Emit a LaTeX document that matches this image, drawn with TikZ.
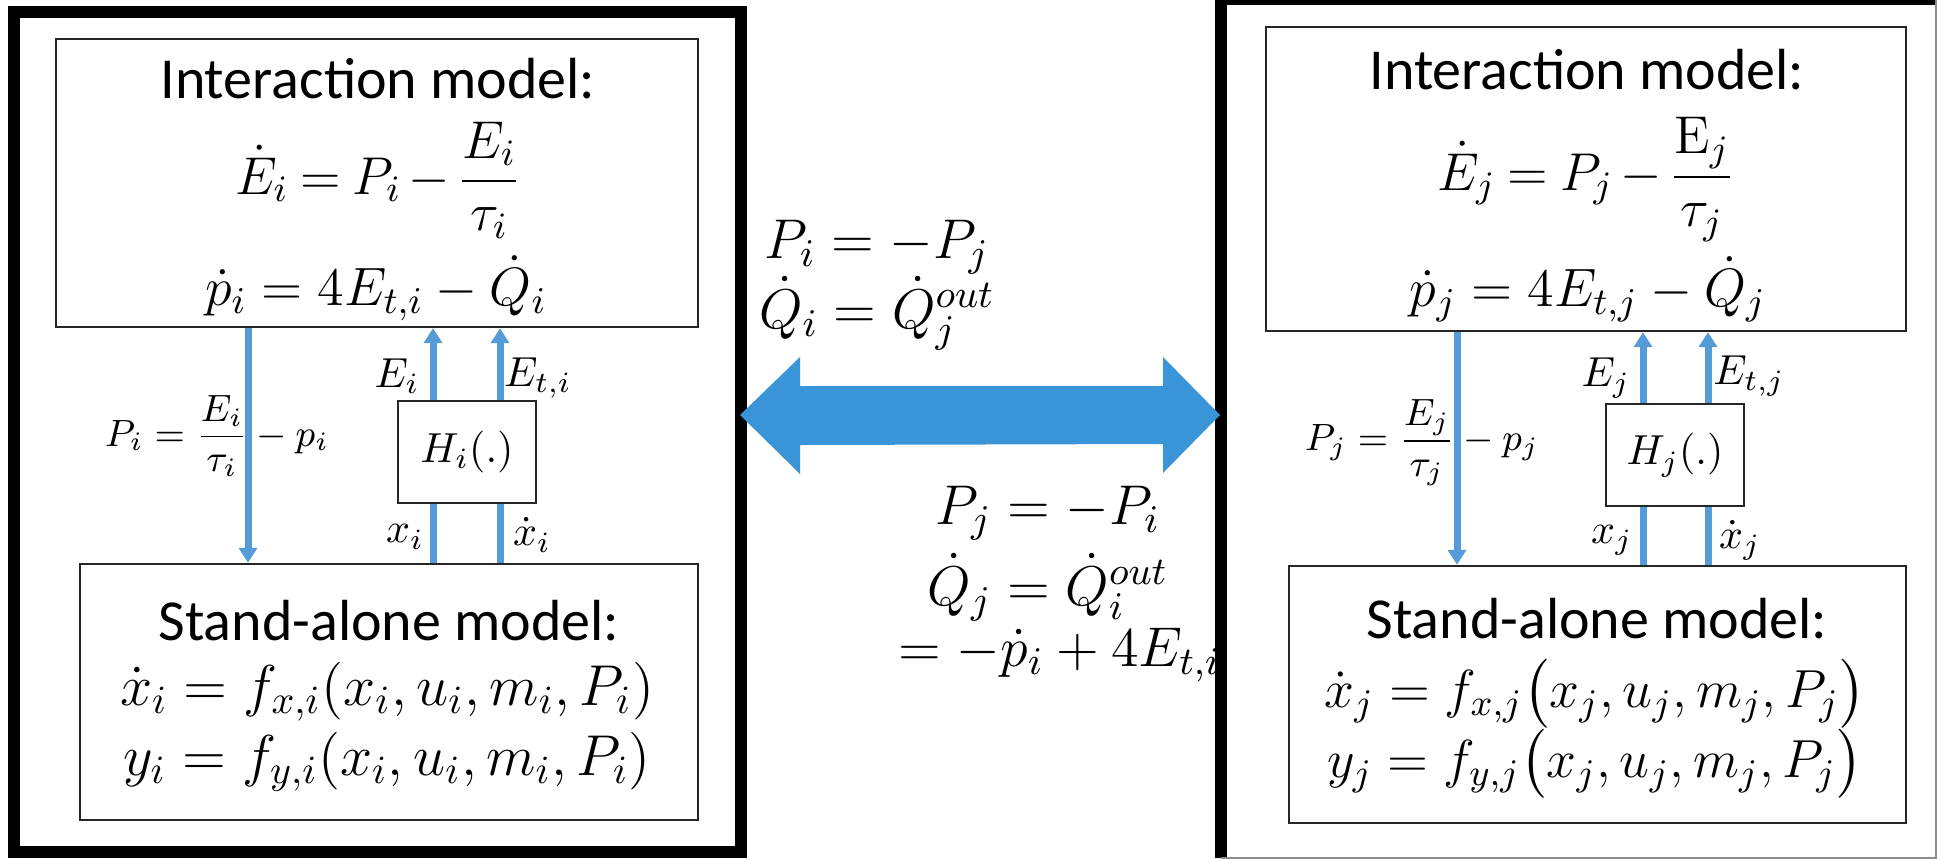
\RequirePackage{fix-cm}
\documentclass[tikz,border=0pt]{standalone}
\usepackage{amsmath}
\usepackage{fontspec}
\setsansfont{Carlito}
\usetikzlibrary{arrows.meta,calc}
\definecolor{lineblue}{RGB}{84,155,215}
\definecolor{bigblue}{RGB}{58,149,216}
\newcommand{\tightsp}{\thickmuskip=4mu\relax\medmuskip=2.5mu\relax}
\tikzset{
  box/.style={draw=black!85, line width=0.6pt, inner sep=0pt},
  title/.style={font=\sffamily\fontsize{14.5}{17}\selectfont, anchor=base, inner sep=0pt},
  eqa/.style={font=\fontsize{13.3}{16}\selectfont, anchor=base, inner sep=0pt},
  eqb/.style={font=\fontsize{13.5}{16}\selectfont, anchor=base, inner sep=0pt},
  eqc/.style={font=\fontsize{14.4}{17}\selectfont, anchor=base, inner sep=0pt},
  eqd/.style={font=\fontsize{13.4}{16}\selectfont, anchor=base, inner sep=0pt},
  lab/.style={font=\fontsize{10.5}{12}\selectfont, inner sep=0pt},
  flab/.style={font=\fontsize{9.5}{11}\selectfont, inner sep=0pt},
  mid/.style={font=\fontsize{14}{17}\selectfont, anchor=base, inner sep=0pt},
  flow/.style={draw=lineblue, line width=1.75pt},
  flowarrow/.style={flow, -{Triangle[width=4.5pt,length=3.75pt]}},
}
\begin{document}
\begin{tikzpicture}[x=0.25pt,y=-0.25pt]
\useasboundingbox (0,0) rectangle (1937,858);
% frames
\node[draw=black, line width=3pt, inner sep=0pt, minimum width=181.75pt, minimum height=210pt] (lframe) at (377.5,432) {};
\node[inner sep=0pt, minimum width=178.25pt, minimum height=214.25pt] (rframe) at (1578.5,428.5) {};
\draw[black, line width=3pt] (rframe.south west) -- (rframe.north west) -- (rframe.north east);
\draw[black!45, line width=0.5pt] (rframe.north east) -- (rframe.south east) -- (rframe.south west);
% left panel boxes
\node[box, minimum width=160.5pt, minimum height=72pt] (topL) at (377,183) {};
\node[box, minimum width=154.5pt, minimum height=64pt] (botL) at (389,692) {};
\node[box, minimum width=34.5pt, minimum height=25.5pt] (hL) at (467,452) {};
\node[lab] (hLt) at (hL.center) {$H_i(.)$};
% right panel boxes
\node[box, minimum width=160pt, minimum height=76pt] (topR) at (1586,179) {};
\node[box, minimum width=154.25pt, minimum height=64.25pt] (botR) at (1597.5,694.5) {};
\node[box, minimum width=34.5pt, minimum height=25.5pt] (hR) at (1675,455) {};
\node[lab] (hRt) at (hR.center) {$H_j(.)$};
% left texts
\node[title] (tL1) at (378,98) {Interaction model:};
\node[eqa] (tL2) at (378,194) {$\tightsp\dot{E}_i = P_i - \dfrac{E_i}{\tau_i}$};
\node[eqb] (tL3) at (376,305) {$\dot{p}_i = 4E_{t,i} - \dot{Q}_i$};
\node[title] (bL1) at (389,640) {Stand-alone model:};
\node[eqc] (bL2) at (387,705) {$\dot{x}_i = f_{x,i}(x_i, u_i, m_i, P_i)$};
\node[eqc] (bL3) at (387,775) {$y_i = f_{y,i}(x_i, u_i, m_i, P_i)$};
% right texts
\node[title] (tR1) at (1587,89) {Interaction model:};
\node[eqa] (tR2) at (1586,190) {$\tightsp\dot{E}_j = P_j - \dfrac{\mathrm{E}_j}{\tau_j}$};
\node[eqb] (tR3) at (1588,306) {$\dot{p}_j = 4E_{t,j} - \dot{Q}_j$};
\node[title] (bR1) at (1597,638) {Stand-alone model:};
\node[eqd] (bR2) at (1595,707) {$\dot{x}_j = f_{x,j}\bigl(x_j, u_j, m_j, P_j\bigr)$};
\node[eqd] (bR3) at (1595,777) {$y_j = f_{y,j}\bigl(x_j, u_j, m_j, P_j\bigr)$};
% flow labels left
\node[flab] (pL) at (217,436) {$P_i = \dfrac{E_i}{\tau_i} - p_i$};
\node[lab] (eL) at (397,376) {$E_i$};
\node[lab] (etL) at (538,378) {$E_{t,i}$};
\node[lab] (xL) at (405,537) {$x_i$};
\node[lab] (xdL) at (532,535) {$\dot{x}_i$};
% flow labels right
\node[flab] (pR) at (1422,443) {$P_j = \dfrac{E_j}{\tau_j} - p_j$};
\node[lab] (eR) at (1606,378) {$E_j$};
\node[lab] (etR) at (1749,376) {$E_{t,j}$};
\node[lab] (xR) at (1612,540) {$x_j$};
\node[lab] (xdR) at (1740,540) {$\dot{x}_j$};
% connector columns
\coordinate (cL0) at (248,0);
\coordinate (cL1) at (433,0);
\coordinate (cL2) at (500,0);
\coordinate (cR0) at (1457,0);
\coordinate (cR1) at (1643,0);
\coordinate (cR2) at (1708,0);
% left connectors
\draw[flowarrow] (topL.south -| cL0) -- (botL.north -| cL0);
\draw[flowarrow] (hL.north -| cL1) -- (topL.south -| cL1);
\draw[flowarrow] (hL.north -| cL2) -- (topL.south -| cL2);
\draw[flow] (botL.north -| cL1) -- (hL.south -| cL1);
\draw[flow] (botL.north -| cL2) -- (hL.south -| cL2);
% right connectors
\draw[flowarrow] (topR.south -| cR0) -- (botR.north -| cR0);
\draw[flowarrow] (hR.north -| cR1) -- (topR.south -| cR1);
\draw[flowarrow] (hR.north -| cR2) -- (topR.south -| cR2);
\draw[flow] (botR.north -| cR1) -- (hR.south -| cR1);
\draw[flow] (botR.north -| cR2) -- (hR.south -| cR2);
% middle texts
\node[mid] (m1) at (877,258) {$P_i = -P_j$};
\node[mid] (m2) at (877,328) {$\dot{Q}_i = \dot{Q}_j^{out}$};
\node[mid] (m3) at (1048,524) {$P_j = -P_i$};
\node[mid] (m4) at (1048,605) {$\dot{Q}_j = \dot{Q}_i^{out}$};
\node[mid] (m5) at (1052,666) {${}= -\dot{p}_i + 4E_{t,i}$};
% big double arrow
\coordinate (tipL) at (740,415);
\coordinate (tipR) at (1220,415);
\fill[bigblue] (tipL) -- ++(60,-58) -- ++(0,29) -- ($(tipR)+(-57,-29)$) -- ++(0,-29) -- (tipR)
  -- ++(-57,58) -- ++(0,-29) -- ($(tipL)+(60,30)$) -- ++(0,29) -- cycle;
\end{tikzpicture}
\end{document}
